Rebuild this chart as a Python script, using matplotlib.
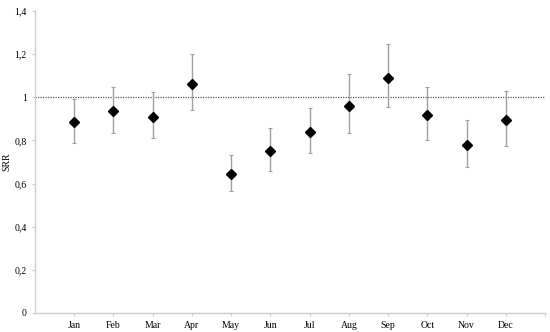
import matplotlib
matplotlib.use('Agg')
import matplotlib.pyplot as plt

# Data
months = ['Jan', 'Feb', 'Mar', 'Apr', 'May', 'Jun',
          'Jul', 'Aug', 'Sep', 'Oct', 'Nov', 'Dec']
srr = [0.884, 0.935, 0.909, 1.06, 0.644, 0.751,
       0.838, 0.961, 1.091, 0.918, 0.777, 0.895]
upper = [0.991, 1.049, 1.023, 1.199, 0.733, 0.858,
         0.95, 1.107, 1.246, 1.049, 0.893, 1.029]
lower = [0.79, 0.833, 0.81, 0.94, 0.566, 0.66,
         0.74, 0.834, 0.956, 0.803, 0.678, 0.776]
y_ticks = [0, 0.2, 0.4, 0.6, 0.8, 1.0, 1.2, 1.4]

plt.rcParams['font.family'] = ['Liberation Serif', 'DejaVu Serif']

fig = plt.figure(figsize=(5.5, 3.32), dpi=100)
ax = fig.add_axes([35 / 550, 19 / 332, 510 / 550, 302 / 332])

x = list(range(1, len(months) + 1))
yerr = [[s - lo for s, lo in zip(srr, lower)],
        [hi - s for s, hi in zip(srr, upper)]]

ax.axhline(1.0, color='#555555', linestyle=(0, (1, 1)), linewidth=0.9, zorder=1)
ax.errorbar(x, srr, yerr=yerr, fmt='none', ecolor='#a0a0a0', elinewidth=1.0,
            capsize=1.5, capthick=0.8, zorder=2)
ax.plot(x, srr, linestyle='none', marker='D', markersize=5,
        color='black', zorder=3)

ax.set_xlim(0, 13)
ax.set_ylim(0, 1.4)
ax.set_xticks(x + [13])
ax.set_xticklabels(months + [''], fontsize=7)
ax.set_yticks(y_ticks)
ax.set_yticklabels([f'{v:g}'.replace('.', ',') for v in y_ticks], fontsize=7)
ax.set_ylabel('SRR', fontsize=7)
ax.yaxis.set_label_coords(-0.046, 0.5)

for side in ['top', 'right']:
    ax.spines[side].set_visible(False)
for side in ['left', 'bottom']:
    ax.spines[side].set_color('#cccccc')
    ax.spines[side].set_linewidth(1.0)
ax.tick_params(axis='both', colors='#cccccc', length=2.5, width=0.8,
               labelcolor='black')
ax.tick_params(axis='x', pad=3)

plt.savefig('out.png', dpi=100, facecolor='white')
plt.close()
